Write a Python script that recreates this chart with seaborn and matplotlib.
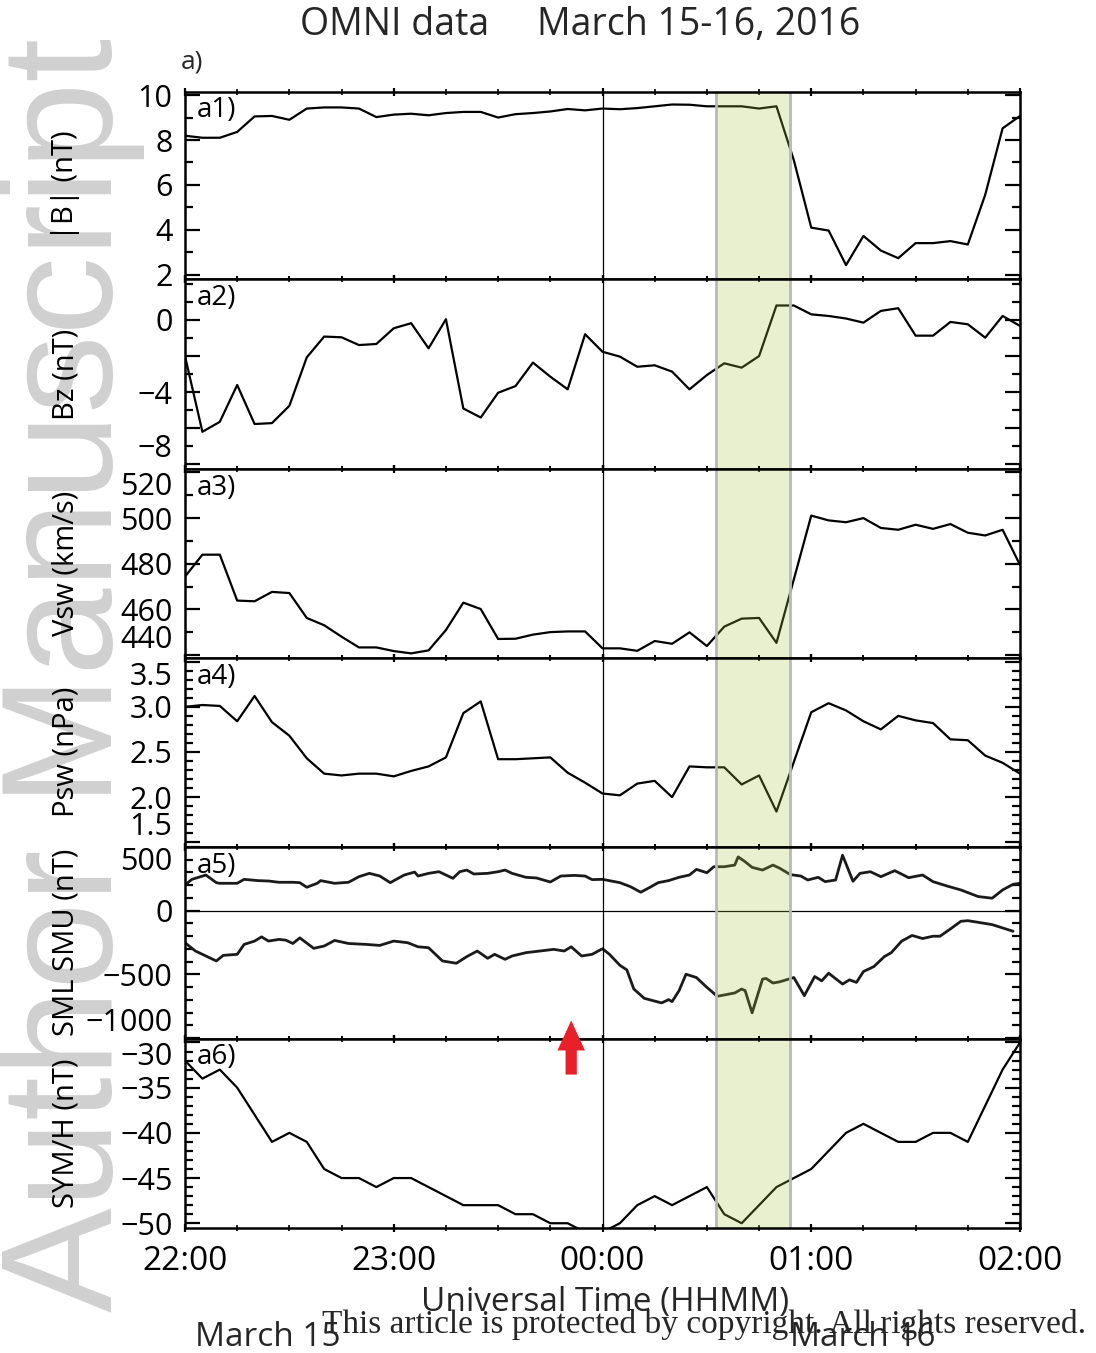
import numpy as np
import matplotlib
matplotlib.use("Agg")
import matplotlib.pyplot as plt
from matplotlib.ticker import FixedLocator, MultipleLocator, FuncFormatter, NullFormatter
import matplotlib.transforms as mtransforms
import seaborn as sns

# ---------------------------------------------------------------------------
# OMNI 5-minute data, minutes after 22:00 UT on March 15, 2016
omni_minutes = np.arange(0, 241, 5)

b_total = [8.19, 8.10, 8.10, 8.36, 9.05, 9.07, 8.90, 9.40, 9.45, 9.45, 9.40, 9.02,
           9.13, 9.17, 9.10, 9.20, 9.25, 9.25, 9.00, 9.15, 9.20, 9.27, 9.38, 9.32,
           9.40, 9.37, 9.42, 9.50, 9.58, 9.57, 9.50, 9.50, 9.50, 9.40, 9.50, 7.10,
           4.10, 3.97, 2.43, 3.73, 3.08, 2.74, 3.41, 3.41, 3.50, 3.35, 5.56, 8.52, 9.07]

bz = [-2.00, -6.19, -5.64, -3.60, -5.76, -5.71, -4.75, -2.07, -0.92, -0.96, -1.39, -1.33,
      -0.46, -0.18, -1.57, 0.04, -4.90, -5.40, -4.03, -3.66, -2.36, -3.14, -3.84, -0.79,
      -1.76, -2.03, -2.59, -2.51, -2.86, -3.84, -3.05, -2.40, -2.64, -2.00, 0.80, 0.80,
      0.31, 0.22, 0.08, -0.15, 0.50, 0.65, -0.87, -0.87, -0.11, -0.24, -0.98, 0.22, -0.33]

vsw = [474.4, 484.0, 484.0, 463.9, 463.6, 467.7, 467.2, 456.3, 453.1, 448.1, 443.4, 443.4,
       441.8, 440.8, 442.1, 451.0, 463.0, 460.2, 447.1, 447.2, 449.0, 450.1, 450.4, 450.4,
       443.0, 443.0, 441.9, 446.2, 445.0, 450.0, 444.0, 452.5, 456.0, 456.3, 445.4, 473.2,
       501.1, 499.0, 498.2, 500.0, 495.7, 494.9, 497.1, 495.3, 497.4, 493.6, 492.4, 494.9, 479.5]

psw = [3.00, 3.02, 3.01, 2.84, 3.12, 2.83, 2.68, 2.43, 2.26, 2.24, 2.26, 2.26,
       2.23, 2.29, 2.34, 2.44, 2.93, 3.06, 2.42, 2.42, 2.43, 2.44, 2.27, 2.16,
       2.04, 2.02, 2.15, 2.18, 2.00, 2.34, 2.33, 2.33, 2.14, 2.24, 1.84, 2.39,
       2.94, 3.04, 2.96, 2.84, 2.75, 2.90, 2.85, 2.82, 2.64, 2.63, 2.46, 2.38, 2.26]

sym_h = [-32, -34, -33, -35, -38, -41, -40, -41, -44, -45, -45, -46,
         -45, -45, -46, -47, -48, -48, -48, -49, -49, -50, -50, -51,
         -51, -50, -48, -47, -48, -47, -46, -49, -50, -48, -46, -45,
         -44, -42, -40, -39, -40, -41, -41, -40, -40, -41, -37, -33, -30]

# SuperMAG SMU / SML (nT), minutes after 22:00 UT
smu_minutes = [0, 2, 6, 9, 10, 15, 17, 21, 24, 27, 31, 33, 35, 38, 39, 43, 47, 50, 53, 56,
               59, 63, 66, 67, 70, 73, 77, 79, 81, 83, 87, 90, 92, 94, 98, 101, 105, 108,
               112, 115, 117, 120, 125, 128, 131, 134, 136, 139, 142, 145, 147, 150, 152,
               155, 158, 159, 161, 163, 166, 169, 171, 174, 177, 179, 182, 184, 187, 189,
               192, 194, 197, 200, 204, 208, 212, 215, 219, 223, 228, 232, 235, 238, 240]
smu = [202, 246, 280, 220, 215, 215, 246, 236, 233, 223, 223, 220, 184, 215, 236, 215, 223,
       267, 293, 272, 220, 280, 303, 272, 293, 306, 254, 306, 319, 288, 293, 306, 319, 293,
       262, 257, 225, 272, 277, 272, 244, 246, 220, 189, 145, 189, 220, 236, 262, 280, 324,
       298, 345, 345, 358, 422, 384, 340, 319, 358, 332, 283, 272, 241, 262, 228, 241, 435,
       231, 293, 306, 267, 314, 259, 280, 228, 194, 163, 111, 98, 163, 207, 215]

sml_minutes = [0, 3, 9, 11, 15, 17, 20, 22, 24, 27, 29, 31, 33, 37, 40, 43, 47, 52, 56, 60,
               64, 67, 70, 74, 78, 81, 84, 87, 89, 92, 94, 98, 102, 106, 109, 111, 114, 117,
               120, 122, 125, 127, 129, 132, 137, 139, 140, 142, 144, 147, 150, 153, 158,
               160, 161, 163, 166, 167, 169, 171, 175, 178, 181, 183, 185, 189, 191, 193,
               195, 198, 201, 203, 206, 209, 212, 215, 217, 220, 223, 225, 228, 232, 235, 238]
sml = [-251, -316, -394, -350, -342, -264, -238, -205, -238, -225, -231, -257, -213, -295,
       -277, -233, -257, -264, -272, -238, -251, -283, -290, -394, -412, -360, -316, -373,
       -342, -381, -355, -329, -316, -303, -316, -283, -355, -342, -298, -342, -428, -464,
       -614, -687, -723, -697, -713, -627, -498, -524, -601, -671, -645, -614, -627, -801,
       -536, -531, -567, -557, -524, -666, -516, -550, -490, -575, -542, -562, -477, -438,
       -360, -329, -238, -194, -218, -200, -200, -143, -83, -78, -91, -109, -135, -161]

# highlighted interval and event marker (minutes after 22:00)
highlight_span = (152.5, 174.0)
midnight = 120
onset_minute = 111

hour_ticks = [0, 60, 120, 180, 240]
hour_labels = ["22:00", "23:00", "00:00", "01:00", "02:00"]

ylabels = ["|B| (nT)", "Bz (nT)", "Vsw (km/s)", "Psw (nPa)", "SML SMU (nT)", "SYM/H (nT)"]
tags = ["a1)", "a2)", "a3)", "a4)", "a5)", "a6)"]
ylims = [(1.8, 10.15), (-8.25, 2.25), (438.9, 521.5), (1.451, 3.544), (-1002, 502), (-50.56, -29.56)]
major_ticks = [[2, 4, 6, 8, 10], [-8, -6, -4, -2, 0], [440, 460, 480, 500, 520],
               [1.5, 2.0, 2.5, 3.0, 3.5], [-1000, -500, 0, 500], [-50, -45, -40, -35, -30]]
labelled_every = [2, 4, 20, 0.5, 500, 5]
minor_steps = [1, 1, 10, 0.1, 100, 1]
label_fmt = ["{:.0f}", "{:.0f}", "{:.0f}", "{:.1f}", "{:.0f}", "{:.0f}"]
# shift edge labels inside the panel (top, bottom)
edge_shift = [(False, False), (False, True), (True, True), (True, True), (True, True), (True, False)]

# ---------------------------------------------------------------------------
sns.set_theme(style="ticks")
plt.rcParams["font.family"] = ["Open Sans", "DejaVu Sans"]
plt.rcParams["axes.unicode_minus"] = True

W, H = 1096, 1353
fig = plt.figure(figsize=(W / 100, H / 100), dpi=100)
fig.patch.set_facecolor("white")

# background watermark along the left margin
fig.text(112 / W, 1 - 1312 / H, "Author Manuscript", rotation=90, rotation_mode="anchor",
         ha="left", va="baseline", fontsize=113, color="#d0d0d0",
         family=["Liberation Sans", "DejaVu Sans"], zorder=-5)

left_px, right_px = 185, 1020
edges_px = [91.7, 279.3, 469.0, 657.7, 846.7, 1038.5, 1228.3]

axes = []
for i, (top, bot) in enumerate(zip(edges_px[:-1], edges_px[1:])):
    ax = fig.add_axes([left_px / W, 1 - bot / H, (right_px - left_px) / W, (bot - top) / H])
    ax.set_facecolor("white")
    axes.append(ax)

series = [(omni_minutes, b_total), (omni_minutes, bz), (omni_minutes, vsw),
          (omni_minutes, psw), None, (omni_minutes, sym_h)]

def make_fmt(step, fmt):
    def f(v, pos):
        if abs(v / step - round(v / step)) > 1e-6:
            return ""
        return fmt.format(v).replace("-", "\u2212")
    return f

for i, ax in enumerate(axes):
    if i == 4:
        sns.lineplot(x=smu_minutes, y=smu, ax=ax, color="#1a1a1a", lw=2.0,
                     estimator=None, sort=False, zorder=2)
        sns.lineplot(x=sml_minutes, y=sml, ax=ax, color="#1a1a1a", lw=2.0,
                     estimator=None, sort=False, zorder=2)
        ax.axhline(0, color="black", lw=0.9, zorder=2)
    else:
        x, y = series[i]
        sns.lineplot(x=x, y=y, ax=ax, color="black", lw=1.6,
                     estimator=None, sort=False, zorder=2)

    ax.axvline(midnight, color="black", lw=0.9, zorder=2)
    ax.axvspan(*highlight_span, facecolor="#a7c743", alpha=0.25, lw=0, zorder=3)
    for edge in highlight_span:
        ax.axvline(edge, color="#b8b8b8", lw=2.0, zorder=4)

    ax.set_xlim(0, 240)
    ax.set_ylim(*ylims[i])
    ax.set_xlabel("")

    ax.xaxis.set_major_locator(FixedLocator(hour_ticks))
    ax.xaxis.set_minor_locator(MultipleLocator(15))
    ax.yaxis.set_major_locator(FixedLocator(major_ticks[i]))
    ax.yaxis.set_minor_locator(MultipleLocator(minor_steps[i]))
    ax.yaxis.set_major_formatter(FuncFormatter(make_fmt(labelled_every[i], label_fmt[i])))

    ax.tick_params(axis="y", which="both", direction="in", left=True, right=True,
                   labelsize=22, pad=9, colors="black")
    ax.tick_params(axis="y", which="major", length=11, width=1.6)
    ax.tick_params(axis="y", which="minor", length=5.5, width=1.6)
    ax.tick_params(axis="x", which="both", direction="inout", top=True, bottom=True,
                   colors="black")
    ax.tick_params(axis="x", which="major", length=6, width=1.6)
    ax.tick_params(axis="x", which="minor", length=4, width=1.2)

    if i == len(axes) - 1:
        ax.set_xticklabels(hour_labels)
        ax.tick_params(axis="x", labelsize=24, pad=9)
    else:
        ax.xaxis.set_major_formatter(NullFormatter())

    for sp in ax.spines.values():
        sp.set_visible(True)
        sp.set_linewidth(1.8)
        sp.set_color("black")
        sp.set_zorder(6)

    ax.set_ylabel(ylabels[i], fontsize=21, color="black", labelpad=0)
    ax.yaxis.set_label_coords((80 - left_px) / (right_px - left_px), 0.5)

    ax.text(0.014, 0.9, tags[i], transform=ax.transAxes, fontsize=20,
            ha="left", va="center", color="black", zorder=7)

    ticks = ax.yaxis.get_major_ticks()
    shift_top, shift_bot = edge_shift[i]
    if shift_bot:
        ticks[0].label1.set_va("bottom")
    if shift_top:
        ticks[-1].label1.set_va("top")

# event marker arrow (between a5 and a6)
ax6 = axes[-1]
trans = mtransforms.blended_transform_factory(ax6.transData, ax6.transAxes)
ax6.annotate("", xy=(onset_minute, 1.095), xytext=(onset_minute, 0.81),
             xycoords=trans, textcoords=trans, annotation_clip=False,
             arrowprops=dict(arrowstyle="simple,head_length=1.2,head_width=1.1,tail_width=0.45",
                             mutation_scale=18, color="#e8202a", lw=0, shrinkA=0, shrinkB=0),
             zorder=8)

# titles and annotations
fig.text(300 / W, 1 - 25 / H, "OMNI data", fontsize=27, ha="left", va="center")
fig.text(537 / W, 1 - 25 / H, "March 15-16, 2016", fontsize=27, ha="left", va="center")
fig.text(181 / W, 1 - 62 / H, "a)", fontsize=19, ha="left", va="center")
fig.text(605 / W, 1 - 1302 / H, "Universal Time (HHMM)", fontsize=24, ha="center", va="center")
fig.text(195 / W, 1 - 1337 / H, "March 15", fontsize=24, ha="left", va="center")
fig.text(790 / W, 1 - 1337 / H, "March 16", fontsize=24, ha="left", va="center")

fig.text(322 / W, 1 - 1325 / H, "This article is protected by copyright. All rights reserved.",
         fontsize=24, ha="left", va="center", family=["Liberation Serif", "DejaVu Serif"])

fig.savefig("out.png", dpi=100, facecolor="white")
